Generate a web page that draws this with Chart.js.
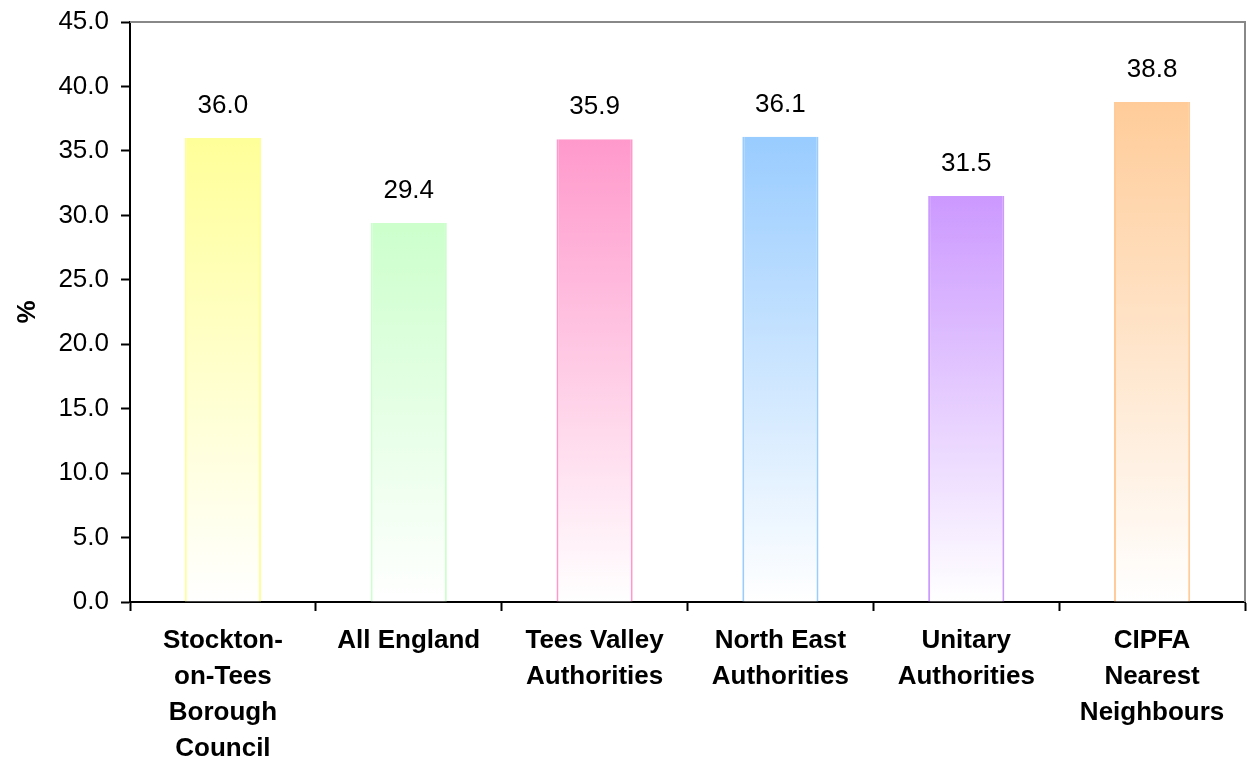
<!DOCTYPE html>
<html>
<head>
<meta charset="utf-8">
<script src="https://cdn.jsdelivr.net/npm/chart.js@4/dist/chart.umd.min.js"></script>
<style>
  html, body { margin: 0; padding: 0; background: #fff; }
  #wrap { width: 1248px; height: 771px; }
</style>
</head>
<body>
<div id="wrap"><canvas id="chart"></canvas></div>
<script>
// datos
const categories = [
    ['Stockton-', 'on-Tees', 'Borough', 'Council'],
    'All England',
    ['Tees Valley', 'Authorities'],
    ['North East', 'Authorities'],
    ['Unitary', 'Authorities'],
    ['CIPFA', 'Nearest', 'Neighbours']
];
const values = [36.0, 29.4, 35.9, 36.1, 31.5, 38.8];
const barColors = ['#FFFF99', '#CCFFCC', '#FF99CC', '#99CCFF', '#CC99FF', '#FFCC99'];
const yTicks = [0, 5, 10, 15, 20, 25, 30, 35, 40, 45];

const FONT = 'Arial, "Liberation Sans", sans-serif';

// etiquetas de valor encima de cada barra
const valueLabels = {
    id: 'valueLabels',
    afterDatasetsDraw(chart) {
        const ctx = chart.ctx;
        const meta = chart.getDatasetMeta(0);
        ctx.save();
        ctx.font = '26px ' + FONT;
        ctx.fillStyle = '#000';
        ctx.textAlign = 'center';
        ctx.textBaseline = 'middle';
        meta.data.forEach((bar, i) => {
            ctx.fillText(values[i].toFixed(1), bar.x, bar.y - 32);
        });
        ctx.restore();
    }
};

// borde gris arriba y a la derecha del área del gráfico
const frame = {
    id: 'frame',
    beforeDatasetsDraw(chart) {
        const { ctx, chartArea: a } = chart;
        ctx.save();
        ctx.strokeStyle = '#888';
        ctx.lineWidth = 2;
        ctx.beginPath();
        ctx.moveTo(a.left, a.top);
        ctx.lineTo(a.right, a.top);
        ctx.lineTo(a.right, a.bottom);
        ctx.stroke();
        ctx.restore();
    }
};

new Chart(document.getElementById('chart'), {
    type: 'bar',
    data: {
        labels: categories,
        datasets: [{
            data: values,
            backgroundColor: (c) => {
                const chart = c.chart;
                const area = chart.chartArea;
                if (!area || c.type !== 'data') return barColors[c.dataIndex];
                const y = chart.scales.y;
                const top = y.getPixelForValue(values[c.dataIndex]);
                const bottom = y.getPixelForValue(0);
                const g = chart.ctx.createLinearGradient(0, top, 0, bottom);
                g.addColorStop(0, barColors[c.dataIndex]);
                g.addColorStop(1, '#FFFFFF');
                return g;
            },
            borderColor: barColors,
            borderWidth: { left: 2, right: 2, top: 0, bottom: 0 },
            borderSkipped: false,
            barPercentage: 0.41,
            categoryPercentage: 1
        }]
    },
    options: {
        responsive: true,
        maintainAspectRatio: false,
        animation: false,
        layout: { padding: { top: 22, right: 3, left: 0, bottom: 0 } },
        plugins: {
            legend: { display: false },
            tooltip: { enabled: false }
        },
        scales: {
            x: {
                grid: {
                    offset: true,
                    drawOnChartArea: false,
                    drawTicks: true,
                    tickLength: 9,
                    tickWidth: 2,
                    color: '#000'
                },
                border: { color: '#000', width: 2 },
                ticks: {
                    color: '#000',
                    maxRotation: 0,
                    autoSkip: false,
                    padding: 12,
                    font: { family: FONT, size: 26, weight: 'bold', lineHeight: 1.38 }
                },
                afterFit(s) { s.height = 169; }
            },
            y: {
                min: 0,
                max: 45,
                afterBuildTicks(s) { s.ticks = yTicks.map(v => ({ value: v })); },
                grid: {
                    drawOnChartArea: false,
                    drawTicks: true,
                    tickLength: 9,
                    tickWidth: 2,
                    color: '#000'
                },
                border: { color: '#000', width: 2 },
                ticks: {
                    color: '#000',
                    padding: 12,
                    font: { family: FONT, size: 26 },
                    callback: (v) => Number(v).toFixed(1)
                },
                title: {
                    display: true,
                    text: '%',
                    color: '#000',
                    font: { family: FONT, size: 26, weight: 'bold' },
                    padding: { top: 12, bottom: 0 }
                },
                afterFit(s) {
                    s.width = 130;
                    s.paddingTop = 10;
                    s.paddingBottom = 10;
                }
            }
        }
    },
    plugins: [valueLabels, frame]
});
</script>
</body>
</html>
